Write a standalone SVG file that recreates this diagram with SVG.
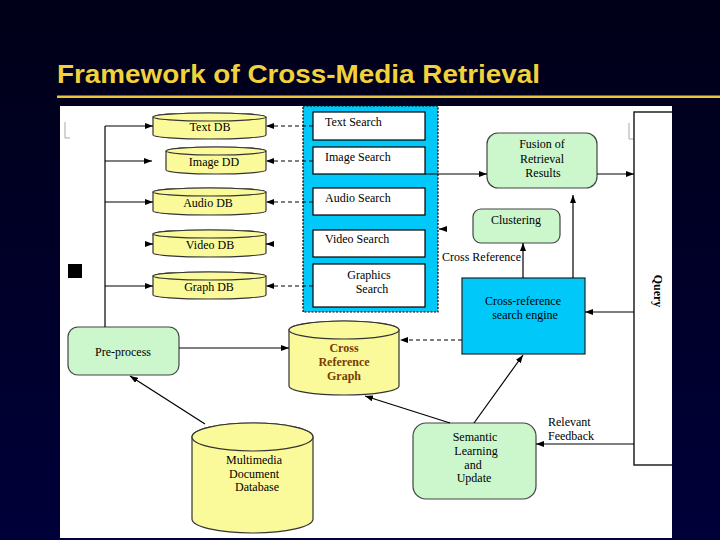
<svg xmlns="http://www.w3.org/2000/svg" width="720" height="540" viewBox="0 0 720 540">
<defs>
<linearGradient id="bg" x1="0" y1="0" x2="0" y2="1">
<stop offset="0" stop-color="#000018"/>
<stop offset="1" stop-color="#00003a"/>
</linearGradient>
<marker id="ah" viewBox="0 0 8 6" refX="8" refY="3" markerWidth="8" markerHeight="6" markerUnits="userSpaceOnUse" orient="auto">
<path d="M0,0 L8,3 L0,6 Z" fill="#000"/>
</marker>
<style>
.t{font-family:"Liberation Serif","Times New Roman",serif;font-size:12px;fill:#000}
.m{text-anchor:middle}
.cyl{fill:#fafa9a;stroke:#333;stroke-width:1.2}
.sb{fill:#fff;stroke:#000;stroke-width:1.2}
.gb{fill:#ccf7cc;stroke:#444;stroke-width:1.2}
.ln{stroke:#000;stroke-width:1.2;fill:none}
.dl{stroke:#000;stroke-width:1.2;fill:none;stroke-dasharray:4,3}
.crg{font-family:"Liberation Serif","Times New Roman",serif;font-size:12px;font-weight:bold;fill:#7a3c00;text-anchor:middle}
</style>
</defs>
<rect x="0" y="0" width="720" height="540" fill="url(#bg)"/>
<text x="57" y="83" font-family="Liberation Sans, Arial, sans-serif" font-size="25" font-weight="bold" fill="#f2d23a" textLength="483" lengthAdjust="spacingAndGlyphs">Framework of Cross-Media Retrieval</text>
<rect x="57" y="95.5" width="663" height="2.5" fill="#e8c83a"/>
<rect x="60" y="106" width="612" height="432" fill="#fff"/>
<path d="M65,122 V138 H70" stroke="#aaa" stroke-width="1" fill="none"/>
<path d="M629,123 V139 H635" stroke="#aaa" stroke-width="1" fill="none"/>
<rect x="68" y="264" width="14" height="14" fill="#000"/>

<g id="search-panel">
<rect x="303" y="106" width="135" height="206" fill="#00c8f8" stroke="#000" stroke-width="1.2" stroke-dasharray="2,1.5"/>
</g>
<g id="text-search"><rect class="sb" x="313" y="112" width="112" height="28"/><text class="t" x="325" y="126">Text Search</text></g>
<g id="image-search"><rect class="sb" x="313" y="147" width="112" height="27"/><text class="t" x="325" y="161">Image Search</text></g>
<g id="audio-search"><rect class="sb" x="313" y="188" width="112" height="27"/><text class="t" x="325" y="202">Audio Search</text></g>
<g id="video-search"><rect class="sb" x="313" y="230" width="112" height="27"/><text class="t" x="325" y="243">Video Search</text></g>
<g id="graphics-search"><rect class="sb" x="313" y="264" width="112" height="43"/><text class="t m" x="369" y="279">Graphics</text><text class="t m" x="372" y="293">Search</text></g>

<g id="text-db"><path class="cyl" d="M153,117 V135 A56.5,4 0 0 0 266,135 V117 A56.5,4 0 0 0 153,117 Z"/><ellipse class="cyl" cx="209.5" cy="117" rx="56.5" ry="4"/><text class="t m" x="210" y="131">Text DB</text></g>
<g id="image-db"><path class="cyl" d="M166,151 V170 A50,4 0 0 0 266,170 V151 A50,4 0 0 0 166,151 Z"/><ellipse class="cyl" cx="216" cy="151" rx="50" ry="4"/><text class="t m" x="214" y="166">Image DD</text></g>
<g id="audio-db"><path class="cyl" d="M153,192 V211 A56.5,4 0 0 0 266,211 V192 A56.5,4 0 0 0 153,192 Z"/><ellipse class="cyl" cx="209.5" cy="192" rx="56.5" ry="4"/><text class="t m" x="208" y="207">Audio DB</text></g>
<g id="video-db"><path class="cyl" d="M153,234 V253 A56.5,4 0 0 0 266,253 V234 A56.5,4 0 0 0 153,234 Z"/><ellipse class="cyl" cx="209.5" cy="234" rx="56.5" ry="4"/><text class="t m" x="210" y="249">Video DB</text></g>
<g id="graph-db"><path class="cyl" d="M153,276 V295 A56.5,4 0 0 0 266,295 V276 A56.5,4 0 0 0 153,276 Z"/><ellipse class="cyl" cx="209.5" cy="276" rx="56.5" ry="4"/><text class="t m" x="209" y="291">Graph DB</text></g>

<g id="fusion"><rect class="gb" x="487" y="133" width="110" height="55" rx="11"/><text class="t m" x="542" y="148">Fusion of</text><text class="t m" x="542" y="163">Retrieval</text><text class="t m" x="543" y="177">Results</text></g>
<g id="clustering"><rect class="gb" x="473" y="209" width="87" height="34" rx="8"/><text class="t m" x="516" y="224">Clustering</text></g>
<g id="engine"><rect x="462" y="278" width="123" height="76" fill="#00c8f8" stroke="#222" stroke-width="1.2"/><text class="t m" x="523" y="305">Cross-reference</text><text class="t m" x="525" y="319">search engine</text></g>
<g id="query"><path d="M672,112 H634 V465 H672" fill="#fff" stroke="#222" stroke-width="1.5"/><text class="t m" transform="translate(654,291) rotate(90)" font-weight="bold">Query</text></g>
<g id="crg"><path class="cyl" d="M289,330 V386 A55,9 0 0 0 399,386 V330 A55,9 0 0 0 289,330 Z"/><ellipse class="cyl" cx="344" cy="330" rx="55" ry="9"/><text class="crg" x="344" y="352">Cross</text><text class="crg" x="344" y="366">Reference</text><text class="crg" x="344" y="380">Graph</text></g>
<g id="preprocess"><rect class="gb" x="68" y="327" width="111" height="48" rx="10"/><text class="t m" x="123" y="356">Pre-process</text></g>
<g id="mmdb"><path class="cyl" d="M192,437 V519 A60.5,14 0 0 0 313,519 V437 A60.5,14 0 0 0 192,437 Z"/><ellipse class="cyl" cx="252.5" cy="437" rx="60.5" ry="14"/><text class="t m" x="254" y="464">Multimedia</text><text class="t m" x="254" y="478">Document</text><text class="t m" x="257" y="491">Database</text></g>
<g id="semantic"><rect class="gb" x="413" y="423" width="123" height="76" rx="13"/><text class="t m" x="475" y="441">Semantic</text><text class="t m" x="476" y="455">Learning</text><text class="t m" x="473" y="469">and</text><text class="t m" x="474" y="482">Update</text></g>

<g id="connectors">
<path class="ln" d="M105,327 V126"/>
<path class="ln" d="M105,126 H153" marker-end="url(#ah)"/>
<path class="ln" d="M105,161 H152" marker-end="url(#ah)"/>
<path class="ln" d="M105,202 H153" marker-end="url(#ah)"/>
<path class="ln" d="M145,244 H153" marker-end="url(#ah)"/>
<path class="ln" d="M105,286 H153" marker-end="url(#ah)"/>
<path class="dl" d="M313,126 H266" marker-end="url(#ah)"/>
<path class="dl" d="M313,161 H266" marker-end="url(#ah)"/>
<path class="dl" d="M313,202 H266" marker-end="url(#ah)"/>
<path class="ln" d="M274,244 H266" marker-end="url(#ah)"/>
<path class="dl" d="M313,286 H266" marker-end="url(#ah)"/>
<path class="ln" d="M425,174 H487" marker-end="url(#ah)"/>
<path class="ln" d="M597,174 H634" marker-end="url(#ah)"/>
<path class="ln" d="M447,229 H439" marker-end="url(#ah)"/>
<path class="ln" d="M523,278 V243" marker-end="url(#ah)"/>
<path class="ln" d="M573,278 V195" marker-end="url(#ah)"/>
<path class="ln" d="M634,312 H585" marker-end="url(#ah)"/>
<path class="dl" d="M462,340 H400" marker-end="url(#ah)"/>
<path class="ln" d="M179,348 H289" marker-end="url(#ah)"/>
<path class="ln" d="M205,424 L130,376" marker-end="url(#ah)"/>
<path class="ln" d="M450,423 L365,396" marker-end="url(#ah)"/>
<path class="ln" d="M474,423 L523,355" marker-end="url(#ah)"/>
<path class="ln" d="M634,444 H536" marker-end="url(#ah)"/>
<text class="t" x="442" y="261">Cross Reference</text>
<text class="t" x="548" y="426">Relevant</text>
<text class="t" x="548" y="440">Feedback</text>
</g>
</svg>
